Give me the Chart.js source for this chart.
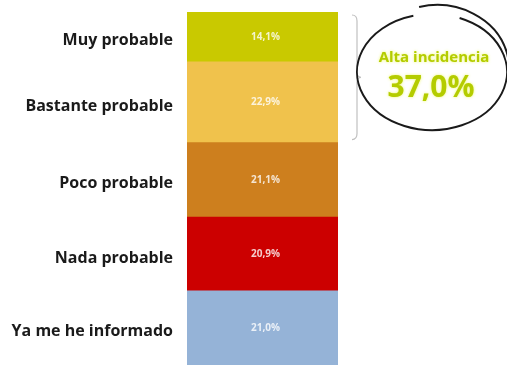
<!DOCTYPE html>
<html><head><meta charset="utf-8">
<script src="https://cdn.jsdelivr.net/npm/chart.js@4.4.0/dist/chart.umd.min.js"></script>
<style>html,body{margin:0;padding:0;background:#fff}#wrap{width:507px;height:365px}</style>
</head><body><div id="wrap"><canvas id="c" width="507" height="365"></canvas></div>
<script>
// bottom to top
const categories = ["Ya me he informado","Nada probable","Poco probable","Bastante probable","Muy probable"];
const values = [21.0, 20.9, 21.1, 22.9, 14.1];
const valueLabels = ["21,0%","20,9%","21,1%","22,9%","14,1%"];
const colors = ["#95b3d7","#cc0000","#cd7f1e","#f0c24c","#c9c900"];
const highlightLabel = "Alta incidencia";
const highlightValue = "37,0%";
const highlightFrom = 3; // first highlighted segment (Bastante + Muy)

const cum = []; let s = 0;
values.forEach(v => { cum.push([s, s + v]); s += v; });
const mids = cum.map(c => (c[0] + c[1]) / 2);

const overlay = {
  id: 'overlay',
  afterDatasetsDraw(chart) {
    const ctx = chart.ctx, y = chart.scales.y, x = chart.scales.x;
    const cx = x.getPixelForValue(0) + 3;
    ctx.save();
    ctx.textAlign = 'center'; ctx.textBaseline = 'middle';
    ctx.font = 'bold 10px "Open Sans"';
    ctx.fillStyle = 'rgba(255,255,255,0.8)';
    values.forEach((v, i) => ctx.fillText(valueLabels[i], cx, y.getPixelForValue(mids[i])));
    // brace
    const top = y.getPixelForValue(cum[cum.length-1][1]) + 3;
    const bot = y.getPixelForValue(cum[highlightFrom][0]) - 3;
    const mid = (top + bot) / 2, bx = 352;
    ctx.strokeStyle = '#c0c0c0'; ctx.lineWidth = 1.2;
    ctx.beginPath();
    ctx.moveTo(bx, top);
    ctx.quadraticCurveTo(bx + 5, top, bx + 5, top + 6);
    ctx.lineTo(bx + 5, mid - 5);
    ctx.quadraticCurveTo(bx + 5, mid, bx + 9, mid);
    ctx.quadraticCurveTo(bx + 5, mid, bx + 5, mid + 5);
    ctx.lineTo(bx + 5, bot - 6);
    ctx.quadraticCurveTo(bx + 5, bot, bx, bot);
    ctx.stroke();
    // hand-drawn ellipse
    ctx.strokeStyle = '#1a1a1a'; ctx.lineWidth = 2;
    ctx.beginPath();
    ctx.ellipse(432, 72, 75, 58, 0, -0.38 * Math.PI, 1.42 * Math.PI);
    ctx.stroke();
    ctx.beginPath();
    ctx.ellipse(437, 68, 72, 63, 0, -0.58 * Math.PI, -0.02 * Math.PI);
    ctx.stroke();
    // text
    ctx.fillStyle = '#b4cc00';
    ctx.shadowColor = 'rgba(235,245,90,0.9)'; ctx.shadowBlur = 3;
    ctx.font = 'bold 15px "Open Sans"';
    ctx.fillText(highlightLabel, 434, 58);
    ctx.font = 'bold 30px "Open Sans"';
    ctx.fillText(highlightValue, 431, 88);
    ctx.restore();
  }
};

new Chart(document.getElementById('c'), {
  type: 'bar',
  data: {
    labels: [''],
    datasets: categories.map((c, i) => ({
      label: c, data: [values[i]], backgroundColor: colors[i],
      borderWidth: 0, barPercentage: 1, categoryPercentage: 1
    }))
  },
  options: {
    responsive: false, animation: false,
    layout: { padding: { top: 12, right: 169, bottom: 0, left: 0 } },
    plugins: { legend: { display: false }, tooltip: { enabled: false } },
    scales: {
      x: { stacked: true, display: false },
      y: {
        stacked: true, min: 0, max: 100,
        grid: { display: false, drawTicks: false }, border: { display: false },
        afterBuildTicks(ax) { ax.ticks = mids.map(v => ({ value: v })); },
        afterFit(ax) { ax.width = 187; ax.paddingTop = 0; ax.paddingBottom = 0; },
        ticks: {
          autoSkip: false, padding: 14, labelOffset: 4, color: '#1a1a1a',
          font: { family: 'Open Sans', weight: 'bold', size: 16 },
          callback: (v, i) => categories[i]
        }
      }
    }
  },
  plugins: [overlay]
});
</script></body></html>
